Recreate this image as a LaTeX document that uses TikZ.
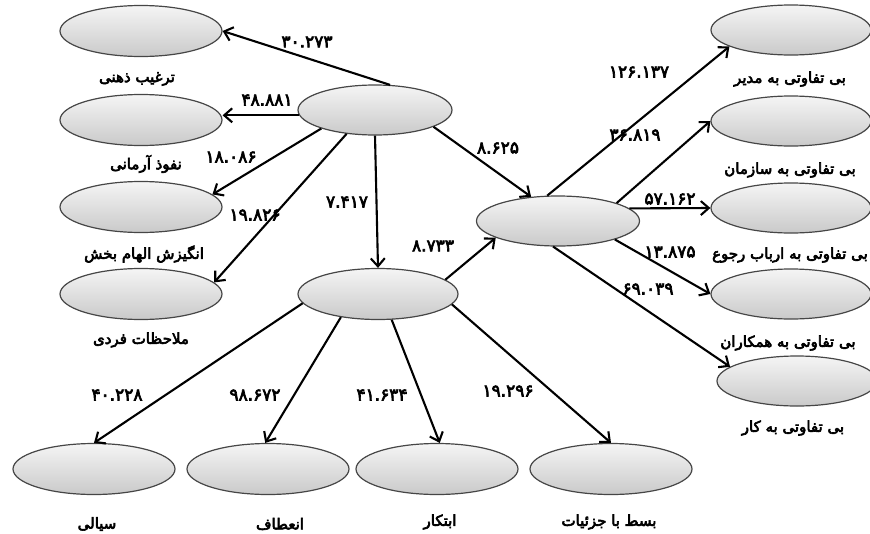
\documentclass[tikz,border=0pt]{standalone}
\usepackage{fontspec}
\usetikzlibrary{shapes.geometric,arrows.meta}
\TeXXeTstate=1
\newfontfamily\fa[Script=Arabic,FakeBold=4]{DejaVu Sans}
\begin{document}
\begin{tikzpicture}[x=1pt,y=-1pt,
  oval/.style={ellipse, draw=gray!55!black, line width=1.2pt, top color=gray!8, bottom color=gray!42, minimum width=162pt, minimum height=51pt, inner sep=0pt},
  lab/.style={font=\fa\fontsize{15}{17}\selectfont, inner sep=0pt},
  num/.style={font=\fa\fontsize{17}{19}\selectfont, inner sep=0pt},
  arr/.style={-{Straight Barb[length=8pt,width=14pt]}, line width=2.1pt, black}
]
\useasboundingbox (0,0) rectangle (870,533);
% left column
\node[oval] (E1) at (141,31) {};
\node[oval] (E2) at (141,120) {};
\node[oval] (E3) at (141,207) {};
\node[oval] (E4) at (141,294) {};
% centre
\node[oval, minimum width=154pt, minimum height=50pt] (T) at (375,110) {};
\node[oval, minimum width=160pt] (M) at (378,294) {};
\node[oval, minimum width=163pt, minimum height=50pt] (R) at (558,221) {};
% right column
\node[oval, minimum width=160pt, minimum height=50pt] (RE1) at (791,30) {};
\node[oval, minimum width=160pt, minimum height=50pt] (RE2) at (791,121) {};
\node[oval, minimum width=160pt, minimum height=50pt] (RE3) at (791,208) {};
\node[oval, minimum width=160pt, minimum height=50pt] (RE4) at (791,294) {};
\node[oval, minimum width=160pt, minimum height=50pt] (RE5) at (797,381) {};
% bottom row
\node[oval] (B1) at (94,469) {};
\node[oval] (B2) at (268,469) {};
\node[oval] (B3) at (437,469) {};
\node[oval] (B4) at (611,469) {};

% connectors
\draw[arr] (T.59) -- (E1.east);
\draw[arr] (T.184) -- (T.184 -| E2.east);
\draw[arr] (T.199) -- (E3.10);
\draw[arr] (T.220) -- (E4.9);
\draw[arr] (T.south) -- (M.north);
\draw[arr] (T.344) -- (R.138);
\draw[arr] (M.12) -- (R.195);
\draw[arr] (R.113) -- (RE1.195);
\draw[arr] (R.17) -- (RE2.west);
\draw[arr] (R.10) -- (RE3.west);
\draw[arr] (R.342) -- (RE4.west);
\draw[arr] (R.259) -- (RE5.168);
\draw[arr] (M.187) -- (B1.north);
\draw[arr] (M.212) -- (B2.96);
\draw[arr] (M.298) -- (B3.84);
\draw[arr] (M.352) -- (B4.north);

% numbers
\node[num] (n1) at (307,42) {۳۰.۲۷۳};
\node[num] (n2) at (267,100) {۴۸.۸۸۱};
\node[num] (n3) at (231,157) {۱۸.۰۸۶};
\node[num] (n4) at (255,215) {۱۹.۸۲۶};
\node[num] (n5) at (347,202) {۷.۴۱۷};
\node[num] (n6) at (498,148) {۸.۶۲۵};
\node[num] (n7) at (433,246) {۸.۷۳۳};
\node[num] (n8) at (639,72) {۱۲۶.۱۳۷};
\node[num] (n9) at (635,135) {۳۶.۸۱۹};
\node[num] (n10) at (670,199) {۵۷.۱۶۲};
\node[num] (n11) at (670,252) {۱۳.۸۷۵};
\node[num] (n12) at (648,289) {۶۹.۰۳۹};
\node[num] (n13) at (117,395) {۴۰.۲۲۸};
\node[num] (n14) at (255,395) {۹۸.۶۷۲};
\node[num] (n15) at (382,395) {۴۱.۶۳۴};
\node[num] (n16) at (508,391) {۱۹.۲۹۶};

% labels
\node[lab] (L1) at (137,79) {\beginR ترغیب ذهنی\endR};
\node[lab] (L2) at (146,164) {\beginR نفوذ آرمانی\endR};
\node[lab] (L3) at (144,254) {\beginR انگیزش الهام بخش\endR};
\node[lab] (L4) at (141,340) {\beginR ملاحظات فردی\endR};
\node[lab] (L5) at (790,79) {\beginR بی تفاوتی به مدیر\endR};
\node[lab] (L6) at (790,170) {\beginR بی تفاوتی به سازمان\endR};
\node[lab, anchor=east] (L7) at (868,255) {\beginR بی تفاوتی به ارباب رجوع\endR};
\node[lab] (L8) at (788,343) {\beginR بی تفاوتی به همکاران\endR};
\node[lab] (L9) at (793,428) {\beginR بی تفاوتی به کار\endR};
\node[lab] (L10) at (97,524) {\beginR سیالی\endR};
\node[lab] (L11) at (280,524) {\beginR انعطاف\endR};
\node[lab] (L12) at (440,522) {\beginR ابتکار\endR};
\node[lab] (L13) at (609,522) {\beginR بسط با جزئیات\endR};
\end{tikzpicture}
\end{document}
